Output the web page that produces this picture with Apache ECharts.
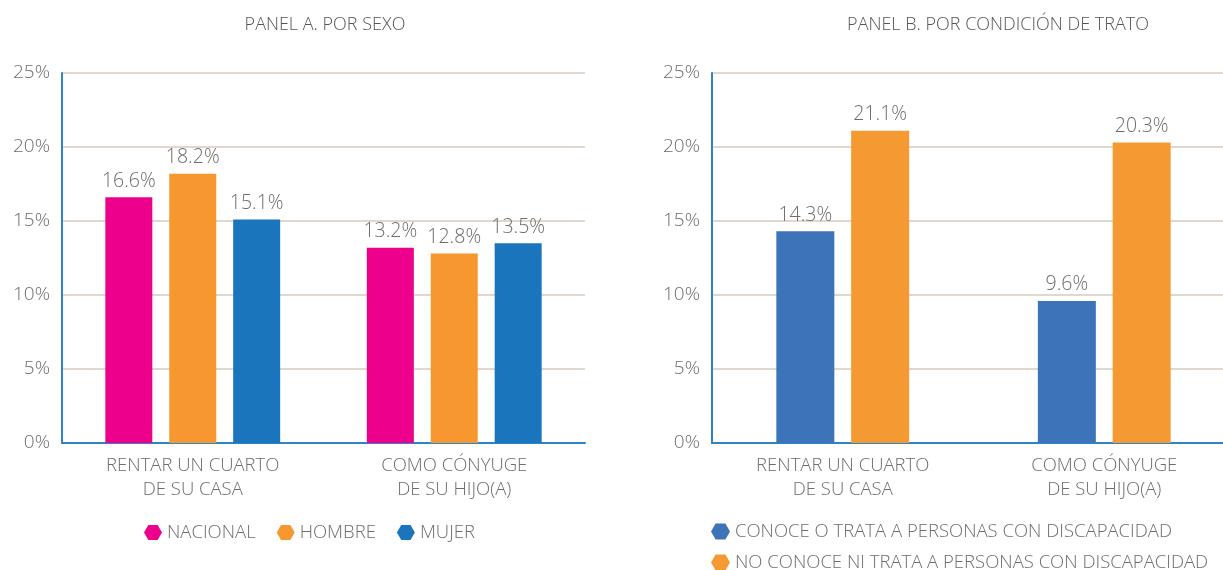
<!DOCTYPE html>
<html>
<head>
<meta charset="utf-8">
<script src="https://cdn.jsdelivr.net/npm/echarts@6/dist/echarts.min.js"></script>
<style>
  html, body { margin: 0; padding: 0; background: #fff; overflow: hidden; }
  /* el panel B se sale un poco por la derecha, como en el original */
  #chart { width: 1235px; height: 570px; }
</style>
</head>
<body>
<div id="chart"></div>
<script>
// categorias (compartidas por ambos paneles)
var categories = ["RENTAR UN CUARTO\nDE SU CASA", "COMO CÓNYUGE\nDE SU HIJO(A)"];
var yTicks = [0, 5, 10, 15, 20, 25];

// Panel A: por sexo
var nacional = [16.6, 13.2];
var hombre = [18.2, 12.8];
var mujer = [15.1, 13.5];

// Panel B: por condicion de trato
var conoce = [14.3, 9.6];
var noConoce = [21.1, 20.3];

var FONT = "'Open Sans', sans-serif";
var TXT = "#6d6d6d";
var HEX = "path://M0,5 L2.9,0 L9.1,0 L12,5 L9.1,10 L2.9,10 Z";

var chart = echarts.init(document.getElementById("chart"));

function xAxis(idx) {
  return {
    type: "category",
    gridIndex: idx,
    data: categories,
    axisLine: { lineStyle: { color: "#2d84c6", width: 2 } },
    axisTick: { show: false },
    axisLabel: {
      color: TXT, fontFamily: FONT, fontSize: 18.5, fontWeight: 300,
      lineHeight: 24, margin: 11
    }
  };
}

function yAxis(idx) {
  return {
    type: "value",
    gridIndex: idx,
    min: yTicks[0],
    max: yTicks[yTicks.length - 1],
    interval: 5,
    axisLine: { show: true, lineStyle: { color: "#2d84c6", width: 2 } },
    axisTick: { show: false },
    splitLine: { lineStyle: { color: "#d6cbbb", width: 1.5 } },
    axisLabel: {
      formatter: "{value}%", color: TXT, fontFamily: FONT, fontSize: 19,
      fontWeight: 300, margin: 12
    }
  };
}

function bar(name, data, color, axisIdx, width, gap) {
  return {
    name: name,
    type: "bar",
    xAxisIndex: axisIdx,
    yAxisIndex: axisIdx,
    data: data,
    barWidth: width,
    barGap: gap,
    itemStyle: { color: color },
    label: {
      show: true, position: "top", distance: 6,
      formatter: function (p) { return p.value.toFixed(1) + "%"; },
      color: TXT, fontFamily: FONT, fontSize: 19.5, fontWeight: 300
    }
  };
}

var legendText = { color: TXT, fontFamily: FONT, fontSize: 18.5, fontWeight: 300 };

chart.setOption({
  animation: false,
  title: [
    { text: "PANEL A. POR SEXO", left: 320, top: 11, textAlign: "center",
      textStyle: { color: "#555", fontFamily: FONT, fontSize: 18, fontWeight: 300 } },
    { text: "PANEL B. POR CONDICIÓN DE TRATO", left: 993, top: 11, textAlign: "center",
      textStyle: { color: "#555", fontFamily: FONT, fontSize: 18, fontWeight: 300 } }
  ],
  legend: [
    {
      data: ["NACIONAL", "HOMBRE", "MUJER"],
      left: 139, top: 518, itemGap: 21, itemWidth: 18, itemHeight: 16,
      icon: HEX, textStyle: legendText
    },
    {
      data: ["CONOCE O TRATA A PERSONAS CON DISCAPACIDAD"],
      left: 706, top: 517, itemWidth: 19, itemHeight: 16,
      icon: HEX, textStyle: legendText
    },
    {
      data: ["NO CONOCE NI TRATA A PERSONAS CON DISCAPACIDAD"],
      left: 706, top: 548, itemWidth: 19, itemHeight: 16,
      icon: HEX, textStyle: legendText
    }
  ],
  grid: [
    { left: 62, top: 73, width: 523, height: 370 },
    { left: 712, top: 73, width: 523, height: 370 }
  ],
  xAxis: [xAxis(0), xAxis(1)],
  yAxis: [yAxis(0), yAxis(1)],
  series: [
    bar("NACIONAL", nacional, "#ec008c", 0, 47, "36%"),
    bar("HOMBRE", hombre, "#f7972f", 0, 47, "36%"),
    bar("MUJER", mujer, "#1b75bc", 0, 47, "36%"),
    bar("CONOCE O TRATA A PERSONAS CON DISCAPACIDAD", conoce, "#3d73b9", 1, 58, "29%"),
    bar("NO CONOCE NI TRATA A PERSONAS CON DISCAPACIDAD", noConoce, "#f59a33", 1, 58, "29%")
  ]
});
</script>
</body>
</html>
